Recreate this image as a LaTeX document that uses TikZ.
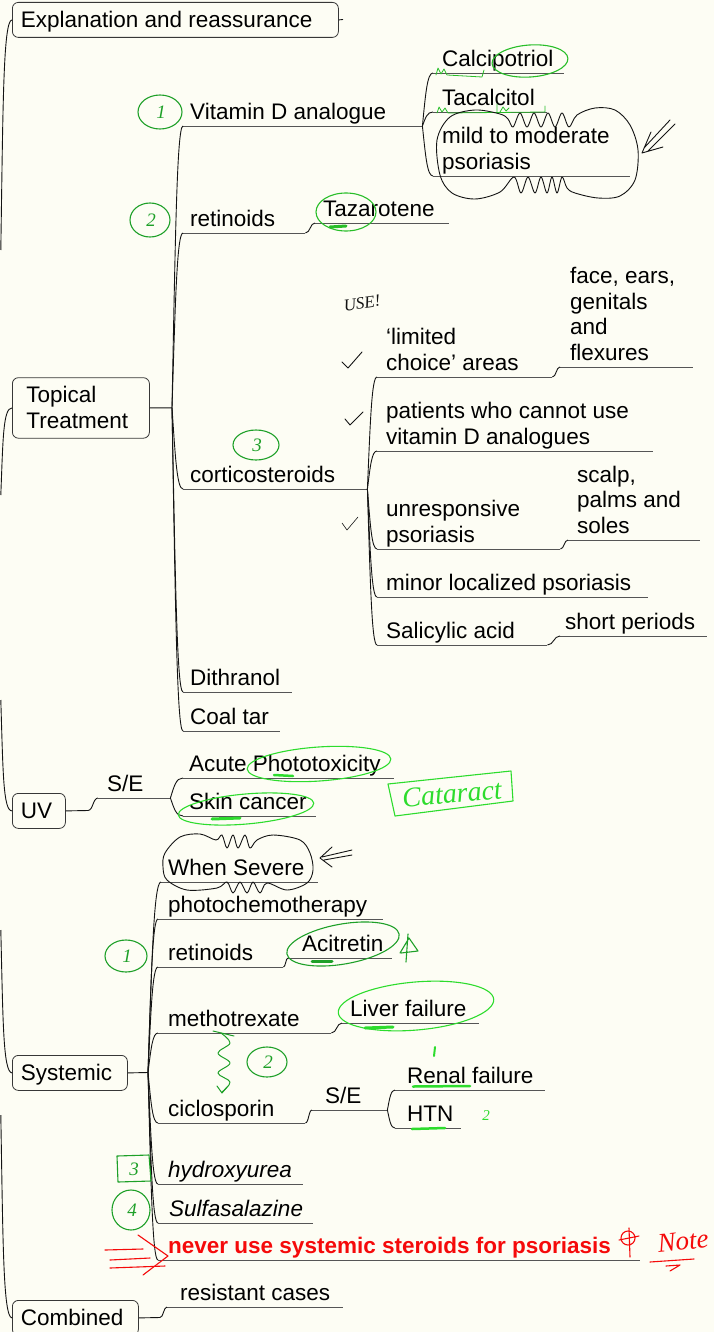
\documentclass[tikz,border=0pt]{standalone}
\usepackage{fontspec}
\setmainfont{Liberation Sans}
\newfontfamily\handfont{Liberation Serif}
\usetikzlibrary{calc}

\definecolor{paper}{RGB}{253,253,244}
\definecolor{ink}{RGB}{20,20,20}
\definecolor{ulc}{RGB}{85,85,85}
\definecolor{gdk}{RGB}{30,160,40}
\definecolor{gmd}{RGB}{40,190,40}
\definecolor{glt}{RGB}{45,220,45}
\definecolor{redn}{RGB}{245,10,10}

% text of an underlined topic: left indent, width of the underline, text
\newcommand\ntext[3]{\parbox[b]{#2pt}{\raggedright\leftskip=#1pt\relax #3}}
% bracket-like branch from a junction to a child underline
\newcommand\fanline[2]{\draw[conn] let \p1=(#1), \p2=(#2) in (\p1) .. controls ({\x1+0.3*(\x2-\x1)},{\y1+0.6*(\y2-\y1)}) and ({\x1+0.45*(\x2-\x1)},{\y2}) .. (\p2);}
% short S-shaped step from one underline to the next
\newcommand\sline[2]{\draw[conn] let \p1=(#1), \p2=(#2) in (\p1) .. controls ({0.5*(\x1+\x2)},{\y1}) and ({0.5*(\x1+\x2)},{\y2}) .. (\p2);}
% handwritten number in a ring: name, x, y, rx, ry, digit, colour
\newcommand\ringnum[7]{%
  \draw[hand,draw=#7] (#2,#3) ellipse [x radius=#4, y radius=#5];
  \node[handtxt,text=#7] (#1) at (#2+1,#3) {#6};}

\tikzset{
  conn/.style={draw=ink, line width=0.9pt},
  uline/.style={draw=ulc, line width=0.9pt},
  topic/.style={anchor=south west, inner sep=0pt, text depth=6.7pt,
    append after command={(\tikzlastnode.south west) edge[uline] (\tikzlastnode.south east)}},
  mainbox/.style={draw=ink!85, line width=0.8pt, rounded corners=6pt, anchor=north west,
    inner xsep=8.5pt, inner ysep=7pt, text height=18pt, text depth=3pt},
  hand/.style={line width=1.1pt, line cap=round, line join=round},
  handtxt/.style={font=\handfont\itshape\fontsize{19}{19}\selectfont, inner sep=0pt},
}

\begin{document}
\begin{tikzpicture}[x=1pt,y=-1pt,
  every node/.style={font=\fontsize{22.5}{25.5}\selectfont}]
\useasboundingbox (0,0) rectangle (714,1332);
\fill[paper] (0,0) rectangle (714,1332);

% ---------- main branches ----------
\node[mainbox] (ex) at (12,2) {\makebox[309pt][l]{Explanation and reassurance}};
\node[mainbox, inner xsep=14pt, text height=43.5pt] (tt) at (12,377.3)
  {\parbox[b]{109pt}{\raggedright Topical\\Treatment}};
\node[mainbox] (uv) at (12,793) {\makebox[36pt][l]{UV}};
\node[mainbox] (sys) at (12,1055) {\makebox[98pt][l]{Systemic}};
\node[mainbox] (cb) at (12,1300) {\makebox[109pt][l]{Combined}};

% trunk lines coming in from the left edge
\coordinate (r1) at (0.8,250);
\coordinate (r2) at (0.8,495);
\coordinate (r3) at (0.8,700);
\coordinate (r4) at (0.8,930);
\coordinate (r5) at (0.8,1115);
\draw[conn] (r1) .. controls (3,110) and (3,20) .. (ex.west);
\draw[conn] (r2) .. controls (3,440) and (3,408) .. (tt.west);
\draw[conn] (r3) .. controls (3,770) and (3,811) .. (uv.west);
\draw[conn] (r4) .. controls (3,1020) and (3,1072) .. (sys.west);
\draw[conn] (r5) .. controls (3,1240) and (3,1317) .. (cb.west);
\coordinate (exstub) at (343,19.5);
\draw[conn] (ex.east) -- (exstub);

% ---------- topical treatment ----------
\node[topic] (vit) at (183,126) {\ntext{7}{239}{Vitamin D analogue}};
\node[topic] (calc) at (433,73) {\ntext{9}{131}{Calcipotriol}};
\node[topic] (taca) at (433,112) {\ntext{9}{114}{Tacalcitol}};
\node[topic] (mild) at (433,176) {\ntext{9}{197}{mild to moderate\\psoriasis}};
\node[topic] (ret1) at (183,233) {\ntext{7}{122}{retinoids}};
\node[topic] (taz) at (315,223) {\ntext{8}{134}{Tazarotene}};
\node[topic] (cort) at (183,489) {\ntext{7}{184}{corticosteroids}};
\node[topic] (lim) at (377,377) {\ntext{9}{175}{‘limited\\choice’ areas}};
\node[topic] (face) at (560,367) {\ntext{10}{133}{face, ears,\\genitals\\and\\flexures}};
\node[topic] (pat) at (377,451) {\ntext{9}{276}{patients who cannot use\\vitamin D analogues}};
\node[topic] (unr) at (377,549) {\ntext{9}{183}{unresponsive\\psoriasis}};
\node[topic] (scalp) at (568,540) {\ntext{9}{132}{scalp,\\palms and\\soles}};
\node[topic] (minor) at (377,597) {\ntext{9}{271}{minor localized psoriasis}};
\node[topic] (sal) at (377,645) {\ntext{9}{170}{Salicylic acid}};
\node[topic] (short) at (560,636) {\ntext{5}{147}{short periods}};
\node[topic] (dith) at (183,692) {\ntext{7}{109}{Dithranol}};
\node[topic] (coal) at (183,731) {\ntext{7}{97}{Coal tar}};

\coordinate (jT) at (172,407.8);
\draw[conn] (tt.east) -- (jT);
\foreach \c in {vit,ret1,cort,dith,coal}{\fanline{jT}{\c.south west}}
\foreach \c in {calc,taca,mild}{\fanline{vit.south east}{\c.south west}}
\sline{ret1.south east}{taz.south west}
\foreach \c in {lim,pat,unr,minor,sal}{\fanline{cort.south east}{\c.south west}}
\sline{lim.south east}{face.south west}
\sline{unr.south east}{scalp.south west}
\sline{sal.south east}{short.south west}

% ---------- UV ----------
\node[topic] (se1) at (98,798) {\ntext{9}{72}{S/E}};
\node[topic] (acute) at (183,778) {\ntext{6}{211}{Acute Phototoxicity}};
\node[topic] (skin) at (183,816) {\ntext{6}{133}{Skin cancer}};
\coordinate (jU) at (88,810.5);
\draw[conn] (uv.east) -- (jU);
\sline{jU}{se1.south west}
\fanline{se1.south east}{acute.south west}
\fanline{se1.south east}{skin.south west}

% ---------- systemic ----------
\node[topic] (sev) at (161,882) {\ntext{7}{157}{When Severe}};
\node[topic] (photo) at (158,919) {\ntext{10}{225}{photochemotherapy}};
\node[topic] (ret2) at (158,967) {\ntext{10}{125}{retinoids}};
\node[topic] (acit) at (288,958) {\ntext{14}{104}{Acitretin}};
\node[topic] (meth) at (158,1033) {\ntext{10}{173}{methotrexate}};
\node[topic] (liver) at (342,1023) {\ntext{8}{137}{Liver failure}};
\node[topic] (cic) at (158,1123) {\ntext{10}{147}{ciclosporin}};
\node[topic] (se2) at (312,1110) {\ntext{13}{75}{S/E}};
\node[topic] (renal) at (395,1090) {\ntext{12}{150}{Renal failure}};
\node[topic] (htn) at (395,1128) {\ntext{12}{66}{HTN}};
\node[topic] (hyd) at (158,1184) {\ntext{10}{145}{\itshape hydroxyurea}};
\node[topic] (sulf) at (158,1223) {\ntext{11}{155}{\itshape Sulfasalazine}};
\node[topic] (never) at (158,1260) {\ntext{10}{482}{\color{redn}\bfseries never use systemic steroids for psoriasis}};

\coordinate (jS) at (148,1072.5);
\draw[conn] (sys.east) -- (jS);
\foreach \c in {sev,photo,ret2,meth,cic,hyd,sulf,never}{\fanline{jS}{\c.south west}}
\sline{ret2.south east}{acit.south west}
\sline{meth.south east}{liver.south west}
\sline{cic.south east}{se2.south west}
\fanline{se2.south east}{renal.south west}
\fanline{se2.south east}{htn.south west}

% ---------- combined ----------
\node[topic] (rc) at (167,1307) {\ntext{13}{176}{resistant cases}};
\coordinate (jC) at (160,1317.5);
\draw[conn] (cb.east) -- (jC);
\sline{jC}{rc.south west}

% ---------- handwritten notes ----------
\ringnum{n1}{160}{112}{22}{17}{1}{gdk}
\ringnum{n2}{150}{220}{20}{17}{2}{gdk}
\ringnum{n3}{256}{445}{23}{15}{3}{gdk}
\ringnum{s1}{126}{956}{21}{16}{1}{gdk}
\ringnum{s2}{267}{1062}{20}{15}{2}{gdk}
\ringnum{s4}{131}{1210}{19}{20}{4}{gdk}
\draw[hand,draw=gdk] (117,1156) -- (149,1155) -- (151,1181) -- (118,1182) -- cycle;
\node[handtxt,text=gdk] (s3) at (134,1169) {3};

% rings round words
\draw[hand,draw=gmd,rotate around={4:(530,61)}] (530,61) ellipse [x radius=38, y radius=16];
\draw[hand,draw=gmd] (346,212) ellipse [x radius=30, y radius=19];
\draw[hand,draw=glt,rotate around={4:(319,764)}] (319,764) ellipse [x radius=72, y radius=17];
\draw[hand,draw=glt,rotate around={5:(246,809)}] (246,809) ellipse [x radius=68, y radius=15];
\draw[hand,draw=gdk,rotate around={10:(343,944)}] (343,944) ellipse [x radius=57, y radius=20];
\draw[hand,draw=glt,rotate around={5:(416,1006)}] (416,1006) ellipse [x radius=78, y radius=24];

% green marker strokes
\draw[hand,draw=gmd,line width=3pt] (330,227) -- (346,226);
\draw[hand,draw=glt,line width=2.5pt] (274,775) -- (293,776);
\draw[hand,draw=glt,line width=3pt] (212,819) -- (240,818);
\draw[hand,draw=gdk,line width=3pt] (312,961) -- (332,961);
\draw[hand,draw=glt,line width=3pt] (365,1028) -- (393,1027);
\draw[hand,draw=glt,line width=2.5pt] (413,1086.5) -- (470,1086);
\draw[hand,draw=glt,line width=2.5pt] (412,1129) -- (445,1128);
\draw[hand,draw=glt,line width=2pt] (435,1047) -- (434,1056);
\node[handtxt,text=glt,font=\handfont\itshape\fontsize{15}{15}\selectfont] (h2) at (486,1116) {2};

% squiggles under the vitamin D names
\draw[hand,draw=gmd,line width=0.8pt] (436,75) -- (438,68) -- (441,74) -- (444,69) -- (447,75) -- (482,77) -- (484,70);
\draw[hand,draw=gmd,line width=0.8pt] (437,113) -- (439,107) -- (442,112) -- (445,108) -- (448,113) -- (545,112) -- (545,106);
\draw[hand,draw=gmd,line width=0.8pt] (497,104) -- (497,113) (500,112) -- (503,107) -- (506,111) -- (509,108);

% cloud round "mild to moderate psoriasis" and its arrow
\draw[hand,draw=ink,line width=0.9pt] plot[smooth cycle, tension=0.55] coordinates {
  (440,175) (437,140) (450,117) (475,110) (500,114)
  (508,119) (513,127) (520,113) (527,127) (534,113) (541,127) (548,113) (555,127) (562,113) (569,127) (577,115)
  (595,108) (615,110) (630,125) (638,150) (635,180) (620,196) (598,198) (575,193)
  (567,188) (562,177) (557,193) (552,177) (547,193) (541,177) (535,193) (528,177) (521,193) (514,177)
  (500,192) (475,199) (452,193)};
\draw[hand,draw=ink,line width=0.9pt] (670,120) -- (644,148) (675,124) -- (648,151) (651,132) -- (642,153) -- (663,147);

% "USE!" and ticks
\node[handtxt,text=ink,rotate=8,font=\handfont\itshape\fontsize{17}{17}\selectfont] (use) at (362,303) {USE!};
\draw[hand,draw=ink,line width=0.9pt] (342,362) -- (348,368) -- (362,352);
\draw[hand,draw=ink,line width=0.9pt] (345,419) -- (350,425) -- (363,412);
\draw[hand,draw=ink,line width=0.6pt] (342,523) -- (347,530) -- (358,517);

% Cataract box
\draw[hand,draw=glt] (388,784) -- (511,771) -- (513,801) -- (395,816) -- cycle;
\node[handtxt,text=glt,rotate=5,font=\handfont\itshape\fontsize{28}{28}\selectfont] (cat) at (452,794) {Cataract};

% cloud round "When Severe" and its arrow
\draw[hand,draw=ink,line width=0.9pt] plot[smooth cycle, tension=0.55] coordinates {
  (165,853) (180,837) (200,834) (216,840)
  (222,835) (227,848) (233,835) (238,848) (245,835) (250,848) (257,840)
  (273,835) (300,840) (310,853) (313,870) (307,883) (287,890)
  (267,883) (260,893) (253,882) (247,893) (240,882) (233,893) (227,882)
  (217,888) (187,890) (167,880) (163,867)};
\draw[hand,draw=ink,line width=0.9pt] (352,850) -- (322,857) (352,855) -- (324,860) (332,847) -- (320,858) -- (332,867);

% mark beside Acitretin
\draw[hand,draw=gdk] (408,934) -- (406,962) (400,953) -- (409,938) -- (418,951) -- (401,953);

% wavy arrow from methotrexate to ciclosporin
\draw[hand,draw=gdk,line width=1pt] (213,1031) -- (234,1036);
\draw[hand,draw=gdk,line width=1pt] plot[smooth, tension=0.6] coordinates {
  (221,1033) (230,1043) (218,1053) (230,1063) (218,1073) (230,1082) (222,1092)};
\draw[hand,draw=gdk,line width=1pt] (217,1086) -- (222,1093) -- (227,1087);

% red arrow and "Note"
\draw[hand,draw=redn] (105,1250) -- (143,1249) (110,1260) -- (150,1258) (110,1268) -- (165,1266);
\draw[hand,draw=redn] (138,1235) -- (168,1256) -- (143,1275);
\draw[hand,draw=redn] (628,1238) circle [radius=7] (629,1228) -- (630,1257) (619,1240) -- (639,1236);
\node[handtxt,text=redn,rotate=6,font=\handfont\itshape\fontsize{27}{27}\selectfont] (note) at (683,1241) {Note};
\draw[hand,draw=redn] (650,1262) -- (694,1259) (666,1266) -- (680,1265) -- (670,1271);
\end{tikzpicture}
\end{document}
